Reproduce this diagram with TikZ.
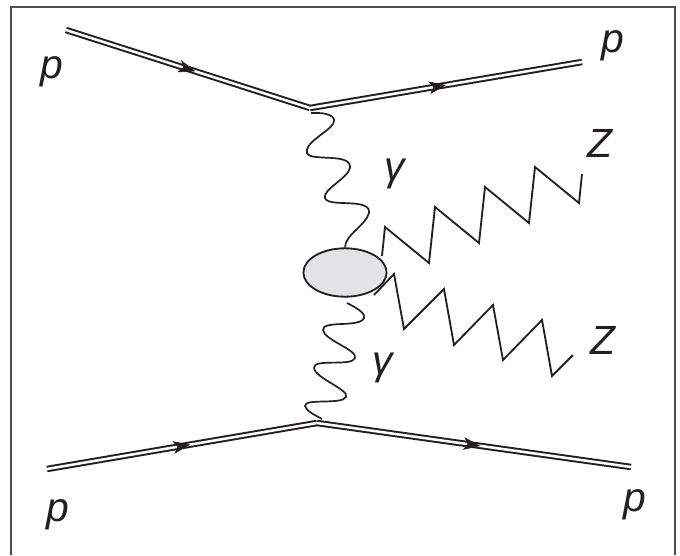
\documentclass[tikz,border=0pt]{standalone}
\usepackage{fontspec}
\setmainfont{Liberation Sans}
\usetikzlibrary{arrows.meta,decorations.markings,shapes.geometric}
\definecolor{blobgray}{HTML}{E2E3E5}
\definecolor{inkgray}{HTML}{231F20}
\tikzset{
  proton/.style={double=white,draw=inkgray,line width=1.4pt,double distance=1.8pt,line cap=butt,
    postaction={decorate,decoration={markings,
      mark=at position #1 with {\arrow[inkgray,line width=0.4pt]{Stealth[length=12pt,width=9pt,inset=3pt]}}}}},
  photon/.style={draw=inkgray,line width=1.2pt},
  zboson/.style={draw=inkgray,line width=1.3pt,line join=miter},
  lab/.style={font=\fontsize{29}{29}\selectfont\itshape,text=inkgray,inner sep=0pt}
}
\begin{document}
\begin{tikzpicture}[x=0.025cm,y=-0.025cm]
  \useasboundingbox (0,0) rectangle (680,555);
  \coordinate (fbl) at (11,555);
  \coordinate (ftl) at (11,7);
  \coordinate (ftr) at (675,7);
  \coordinate (fbr) at (675,555);
  \draw[draw=inkgray!80,line width=1pt] (fbl) -- (ftl) -- (ftr) -- (fbr);
  % protons
  \coordinate (in1) at (66,30);
  \coordinate (vtop) at (310,108);
  \coordinate (out1) at (582,62);
  \coordinate (in2) at (47,469);
  \coordinate (vbot) at (317,423);
  \coordinate (out2) at (631,467);
  \draw[proton=0.53] (in1) -- (vtop);
  \draw[proton=0.50] (vtop) -- (out1);
  \draw[proton=0.53] (in2) -- (vbot);
  \draw[proton=0.52] (vbot) -- (out2);
  % blob
  \node[ellipse,draw=inkgray,line width=1.3pt,fill=blobgray,minimum width=2.08cm,minimum height=1.21cm,inner sep=0pt] (blob) at (345,272.5) {};
  % photons
  \coordinate (ph1) at (311,113);
  \coordinate (ph2) at (322,419);
  \draw[photon] (ph1) .. controls (335,112) and (336,120) .. (333,124)
    .. controls (328,132) and (304,143) .. (307,153)
    .. controls (310,162) and (352,152) .. (350,168)
    .. controls (348,178) and (322,190) .. (325,198)
    .. controls (328,208) and (371,197) .. (369,213)
    .. controls (366,225) and (345,235) .. (blob.north);
  \coordinate (ph3) at (347,303);
  \draw[photon] (ph3) .. controls (355,307) and (366,313) .. (364,318)
    .. controls (360,328) and (322,320) .. (323,330)
    .. controls (324,340) and (358,350) .. (355,358)
    .. controls (352,367) and (313,358) .. (314,368)
    .. controls (315,378) and (350,390) .. (346,397)
    .. controls (342,405) and (304,398) .. (305,406)
    .. controls (306,411) and (315,415) .. (ph2);
  % Z lines
  \coordinate (z1) at (382,256);
  \coordinate (z1e) at (582,174);
  \draw[zboson] (z1) -- (385,227) -- (429,263) -- (435,207) -- (479,243) -- (485,187)
    -- (529,223) -- (535,167) -- (579,203) -- (z1e);
  \coordinate (z2) at (374,295);
  \coordinate (z2e) at (573,355);
  \draw[zboson] (z2) -- (394,274) -- (404,329) -- (444,289) -- (454,345) -- (493,305)
    -- (503,360) -- (542,320) -- (552,376) -- (z2e);
  % labels
  \node[lab] (p1) at (52,72) {p};
  \node[lab] (p2) at (613,46) {p};
  \node[lab] (p3) at (58,515) {p};
  \node[lab] (p4) at (635,505) {p};
  \node[lab] (g1) at (395,174) {γ};
  \node[lab] (g2) at (383,368) {γ};
  \node[lab] (Z1) at (600,143) {Z};
  \node[lab] (Z2) at (603,340) {Z};
\end{tikzpicture}
\end{document}
